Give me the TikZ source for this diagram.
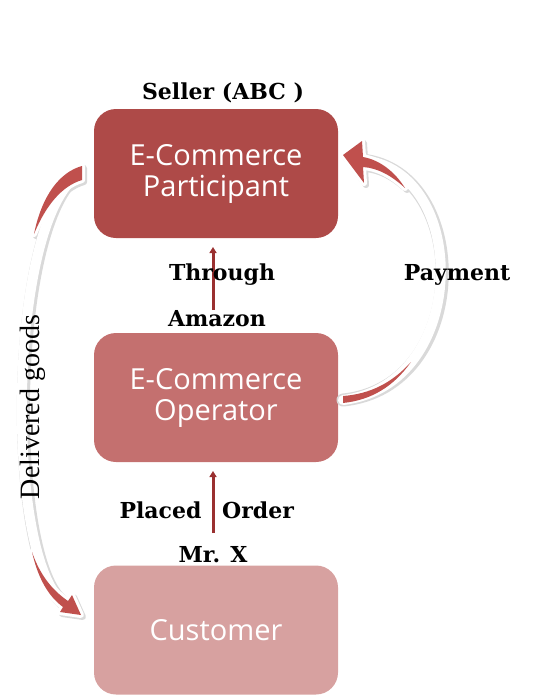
\documentclass[tikz,border=0pt]{standalone}
\usepackage{fontspec}
\setmainfont{DejaVu Serif}
\newfontfamily\boxfont{Open Sans}
\newfontfamily\labfont{DejaVu Serif}
\newfontfamily\delfont{Liberation Serif}
\usetikzlibrary{arrows.meta}
\definecolor{boxA}{HTML}{AE4A48}
\definecolor{boxB}{HTML}{C4706F}
\definecolor{boxC}{HTML}{D7A1A0}
\definecolor{arrred}{HTML}{C0504D}
\definecolor{arrdark}{HTML}{9A3030}
\tikzset{
  ebox/.style={rounded corners=22pt, minimum width=244pt, minimum height=129pt, inner sep=0pt,
    text=white, font=\boxfont\fontsize{29}{33}\selectfont, align=center},
  lab/.style={font=\labfont\bfseries\fontsize{22}{25}\selectfont, anchor=base, inner sep=0pt},
  band/.style={line width=10pt, white, line cap=round},
  bandshadow/.style={line width=13pt, black!15, line cap=round},
  redshape/.style={fill=arrred, preaction={draw=white, line width=6pt, line join=round}},
  redshadow/.style={fill=black!15, draw=black!15, line width=6pt, line join=round},
  vline/.style={line width=3pt, arrdark, -{Triangle[length=6pt,width=7pt]}}
}
\begin{document}
\begin{tikzpicture}[x=1pt,y=-1pt]
\useasboundingbox (0,0) rectangle (537,699);

% boxes
\node[ebox, fill=boxA] (part) at (216,173.5) {\raisebox{-2pt}{E-Commerce}\\Participant};
\node[ebox, fill=boxB] (oper) at (216,397.5) {\raisebox{-2pt}{E-Commerce}\\Operator};
\node[ebox, fill=boxC] (cust) at (216,630) {Customer};

% named ends of the curved connectors
\coordinate (lstart) at (80,173);
\coordinate (lend) at (66,604);
\coordinate (rstart) at (343,400);
\coordinate (rend) at (362,160);

% left curved arrow (Delivered goods)
\begin{scope}[shift={(2,2)}]
  \draw[bandshadow] (lstart) .. controls (5,220) and (5,570) .. (lend);
  \path[redshadow] (82,166) .. controls (60,172) and (42,195) .. (34,234)
      .. controls (46,205) and (62,186) .. (82,180) -- cycle;
  \path[redshadow] (32,552) .. controls (38,578) and (48,596) .. (63,607) -- (60,612) -- (81,615)
      -- (72,595) -- (68,601) .. controls (52,590) and (40,575) .. (32,552) -- cycle;
\end{scope}
\draw[band] (lstart) .. controls (5,220) and (5,570) .. (lend);
\path[redshape] (82,166) .. controls (60,172) and (42,195) .. (34,234)
    .. controls (46,205) and (62,186) .. (82,180) -- cycle;
\path[redshape] (32,552) .. controls (38,578) and (48,596) .. (63,607) -- (60,612) -- (81,615)
    -- (72,595) -- (68,601) .. controls (52,590) and (40,575) .. (32,552) -- cycle;

% right curved arrow (Payment)
\begin{scope}[shift={(2,2)}]
  \draw[bandshadow] (rstart) .. controls (470,385) and (470,170) .. (rend);
  \path[redshadow] (343,155) -- (362,141) -- (363,157) .. controls (380,160) and (395,172) .. (405,188)
      .. controls (392,176) and (378,168) .. (363,167) -- (364,183) -- cycle;
\end{scope}
\draw[band] (rstart) .. controls (470,385) and (470,170) .. (rend);
\path[redshape] (343,155) -- (362,141) -- (363,157) .. controls (380,160) and (395,172) .. (405,188)
    .. controls (392,176) and (378,168) .. (363,167) -- (364,183) -- cycle;
\path[fill=arrred] (343,396) .. controls (370,394) and (392,383) .. (411,362)
    .. controls (394,386) and (372,400) .. (343,403) -- cycle;

% straight arrows
\coordinate (a1s) at (213,310);
\coordinate (a1e) at (213,247);
\coordinate (a2s) at (213,533);
\coordinate (a2e) at (213,471);
\draw[vline] (a1s) -- (a1e);
\draw[vline] (a2s) -- (a2e);

% labels
\node[lab] (seller) at (223,99) {Seller (ABC )};
\node[lab] (through) at (222,280) {Through};
\node[lab] (amazon) at (217,326) {Amazon};
\node[lab] (placed) at (160.5,518) {Placed};
\node[lab] (order) at (258,518) {Order};
\node[lab] (mrx) at (213,562) {Mr. X};
\node[lab] (payment) at (457,280) {Payment};
\node[font=\delfont\fontsize{28}{32}\selectfont, rotate=90, inner sep=0pt] (deliv) at (33,407) {Delivered goods};
\end{tikzpicture}
\end{document}
